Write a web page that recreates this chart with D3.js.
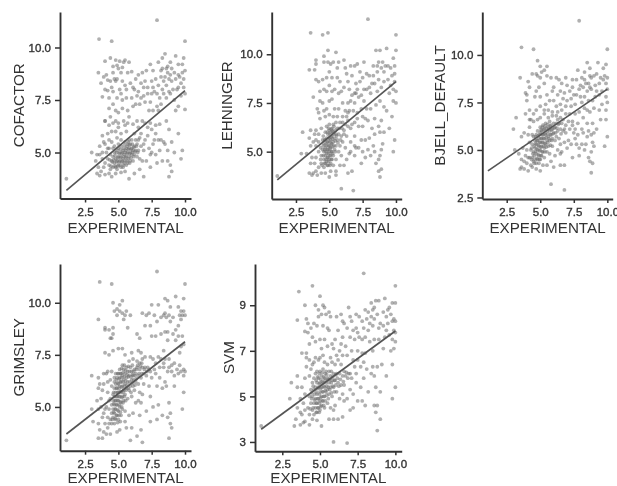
<!DOCTYPE html>
<html>
<head>
<meta charset="utf-8">
<script src="https://cdn.jsdelivr.net/npm/d3@7"></script>
<style>
  html, body { margin: 0; background: #fff; }
  svg { display: block; }
</style>
</head>
<body>
<div id="chart"></div>
<script>
const xTicks = [2.5, 5, 7.5, 10];
const xTitle = "EXPERIMENTAL";

const cofactorTicks = [5, 7.5, 10];
const cofactorLine = [[1.1, 3.2], [10, 7.95]];
const cofactorPoints = [
  [1.1,3.75],[7.9,11.3],[3.55,10.4],[4.5,10.3],[10,10.3],
  [3.5,8.8],[4,9.35],[4.1,8.7],[4.2,8.45],[4,8],[4.2,7.95],[3.8,7.65],[4.3,7.1],[4,6.5],[4.6,9.1],[4.8,9.4],[4.9,9.15],[5,9],[5.3,9.05],[5.4,9.3],
  [5.5,9.4],[5.2,8.8],[5.7,8.8],[6,8.85],[4.6,8.8],[4.7,8.5],[4.8,8.4],[4.9,8.5],[4.5,8.1],[4.6,7.9],[5.1,8],[5.3,8.4],[5.5,8.2],[5.6,8],[5.9,8.3],[6.3,8.5],
  [6.5,8.7],[6.8,8.8],[7,8.4],[7.2,8.1],[6.5,7.9],[6.7,7.6],[6.4,7.7],[6,7.6],[5.6,7.6],[5.3,7.5],[4.9,7.6],[4.6,7.3],[4.8,7],[5,6.9],[5.3,7.1],[5.7,7],
  [6.3,7.3],[6.6,7.3],[6.9,7.7],[7.2,7.8],[7.5,7.8],[7.7,7.9],[7.4,7.4],[7,7.4],[7.3,7],[7.6,7],[7.9,7.2],[8.1,7.6],[8.4,7.8],[8.6,7.6],[8.9,7.8],[7.5,8.4],
  [7.6,8.9],[7.4,9.2],[8,9.3],[8.3,9.5],[8.5,9.7],[8.7,9.1],[9.3,9.6],[9.5,9.2],[9.9,9.5],[9.8,9.2],[8.2,8.6],[8.5,8.6],[8.7,8.8],[8.4,8.4],[8.8,8.5],[8.6,8.2],
  [9,8.4],[9.3,8.5],[9.6,8.6],[9.8,8.8],[10,8.9],[9.7,8.3],[9.5,8.1],[9.9,8.1],[9.1,8],[8.8,7.9],[9.2,7.5],[9.5,7.2],[10,7.05],[9.3,7],[8,8.2],[8.2,8.9],
  [4,6.5],[4.6,6.4],[4.8,6.5],[5,6.4],[5.4,6.5],[5.7,6.4],[6.1,6.35],[6.4,6.5],[6.8,6.5],[7,6.4],[7.4,6.4],[7.8,6.3],[8.1,6.35],[8.6,6.5],[9.5,5.9],[9,5.5],
  [3.8,5.8],[4.2,5.9],[4.5,6],[4.8,6],[5.2,5.9],[5.6,6],[6.2,5.9],[6.7,5.9],[7.2,5.8],[7.8,5.9],[8.2,5.6],[8.5,5.4],[3.6,5.3],[4,5.4],[4.2,5.2],[4.5,5.5],
  [3,5],[3.3,4.6],[3.4,4.9],[3.6,4.9],[3.8,4.7],[3.5,4.3],[3.7,4.1],[3.9,4.3],[3.4,4],[3.6,3.9],[4,3.95],[4.3,4],[4.5,3.85],[4.8,4],[5.2,4.05],[5.8,3.75],
  [5.5,4.1],[6.2,4],[6.6,4.2],[6.9,3.85],[7.4,4.3],[7.9,4.5],[8.3,4.6],[8.7,4.6],[8.9,4.4],[8.8,3.85],[9,4.1],[9.7,4.7],[9.8,5.1],[9.2,5],[8.7,5.1],[7.6,5.4],
  [7,5.6],[7.3,5.2],[7.8,4.9],[6.9,5.1],[7.1,4.6],[6.8,4.6],[8.1,5.1],[8.4,5.5],[8,5.6],[6.6,5.7],[6.9,5.4],[6.3,5.6],
  [4,4.5],[4.2,4.7],[4.3,4.4],[4.4,4.9],[4.5,4.6],[4.6,4.3],[4.6,4.8],[4.7,4.5],[4.7,5],[4.8,4.7],[4.8,4.3],[4.9,4.6],[4.9,5.1],[5,4.4],[5,4.8],[5,5.2],
  [5.1,4.6],[5.1,5],[5.2,4.3],[5.2,4.8],[5.2,5.3],[5.3,4.6],[5.3,5],[5.4,4.4],[5.4,4.8],[5.4,5.2],[5.5,4.6],[5.5,5],[5.5,5.5],[5.6,4.8],[5.6,5.2],[5.7,4.5],
  [5.7,5],[5.7,5.4],[5.8,4.8],[5.8,5.2],[5.8,5.6],[5.9,4.6],[5.9,5],[5.9,5.4],[6,4.9],[6,5.2],[6,5.6],[6.1,4.6],[6.1,5.1],[6.2,5.3],[6.2,4.9],[6.3,5.1],
  [6.4,4.8],[6.4,5.4],[6.5,5.1],[6.6,4.7],[6.7,5.3],[3.8,5],[4.1,5],[4.3,5.2],[4.6,5.2],
  // denser part of the blob and the cloud
  [4.35,4.65],[4.45,4.35],[4.55,4.55],[4.65,4.65],[4.75,4.35],[4.75,4.85],[4.85,4.55],[4.85,5],[4.95,4.35],[4.95,4.75],[5.05,4.55],[5.05,4.95],[5.15,4.4],[5.15,4.75],[5.15,5.15],[5.25,4.55],
  [5.25,4.95],[5.35,4.3],[5.35,4.7],[5.35,5.1],[5.45,4.5],[5.45,4.9],[5.45,5.35],[5.55,4.75],[5.55,5.1],[5.65,4.6],[5.65,4.95],[5.65,5.3],[5.75,4.7],[5.75,5.15],[5.75,5.5],[5.85,4.5],
  [5.85,4.95],[5.85,5.35],[5.95,4.75],[5.95,5.15],[6.05,5],[6.05,5.4],[6.15,4.8],[6.15,5.25],[6.25,5.05],[6.35,5.3],[6.45,5],[5,5.4],[4.7,5.3],[4.4,4.2],[4.9,4.2],[5.6,4.4],
  [3.7,8.3],[3.9,8.6],[4.4,9.5],[5.1,9.35],[5.2,7.8],[5.8,9.3],[6.2,8],[6.1,7.2],[6.9,8.1],[7.1,8.9],[7.8,8.5],[7.9,7.8],[8.3,8],[8.2,7.3],[8,7],[8.6,9],
  [8.9,9.3],[9,9],[9.2,8.8],[9.5,8.7],[9.4,8],[9.7,7.7],[10,7.8],[9.9,8.5],[8.9,8.7],[8.3,9],[7.6,8.1],[6.7,8.3],[6.1,8.1],[4.4,8.4],[4.3,7.6],[5.8,6.7],
  [4.4,6.7],[4.3,6.3],[5,6.2],[5.5,6.3],[6.5,6.2],[7.2,6.2],[7.5,6.1],[7.7,5.6],[8.8,6.1],[3.9,5.5],[4.3,5.6],[4.9,5.7],[5.2,5.6],[6.5,5.6],[7.4,4.9],[7.5,5]
];

const lehningerTicks = [5, 7.5, 10];
const lehningerLine = [[1.1, 3.55], [10, 8.6]];
const lehningerPoints = [
  [1.1,3.75],[7.9,11.8],[3.6,11.1],[4.5,11],[4.9,11.1],[10,11],[5.9,3.1],[6.8,3],[8.8,3.7],[7,8],
  [3.5,9.2],[3.9,9.2],[4,9.7],[4,9.5],[4,8.7],[4.2,8.6],[3.8,7.8],[4.1,7.2],[4.2,7],[4.3,6.7],[4.6,9.9],[4.6,9.6],[4.9,10.2],[4.9,9.6],[5.1,9.5],[5.5,10.1],
  [5.3,9.6],[5.6,9.3],[5,9.1],[4.8,8.8],[4.5,8.7],[4.6,8.2],[4.8,8.1],[5,8.4],[5.2,8.8],[5.4,8.2],[5.6,8.8],[5.8,8.6],[5.9,8.1],[6.1,9.7],[6.3,9],[6.4,8.6],
  [6.6,9.4],[6.7,8.9],[6.5,8.2],[6.7,7.9],[6.9,8],[6.6,7.6],[7,8.5],[7.1,8.2],[7.2,7.8],[7.4,7.9],[7.6,7.6],[7.3,8.6],[7.3,9.1],[7.6,9.6],[7.8,9],[7.8,8.2],
  [8,8.9],[8.2,8.5],[8.1,8],[8.3,9.4],[8.5,10.2],[8.6,9.4],[8.8,10.2],[8.6,9.1],[8.7,8.7],[8.9,9.3],[9.3,10.3],[9.2,9.4],[9.1,9.1],[9.8,9.8],[10,10.2],[9.9,9.4],
  [9.6,9.3],[9.4,8.7],[9.7,8.9],[9.9,8.6],[10,8.1],[9.5,8],[9.8,7.6],[10,7.5],[9.3,7.1],[9.7,6.8],[8.8,7.6],[8.5,7.4],[8.1,7.2],[7.8,7.2],[7.4,7.2],[7.1,7],
  [4.5,7.5],[4.6,7.1],[4.8,7.2],[5,7.6],[5.2,7.7],[5.4,7.2],[5.7,7.2],[6,7.5],[6.2,7.1],[6.5,7.1],[6.8,7.1],[6.3,6.8],[6,6.8],[5.6,6.8],[5.3,6.8],[5,6.9],
  [4.7,6.8],[4.4,6.2],[3.6,6.1],[3,6],[3.5,5.7],[3.9,5.9],[4.2,5.9],[3.6,5.3],[4,5.3],[2.9,4.9],[3.3,4.9],[3.6,4.4],[3.9,4.4],[3.5,3.9],[3.8,3.9],[4,4],
  [4.2,4.2],[4.1,3.8],[4.7,3.9],[5,3.7],[5.1,4],[5.5,4],[6.1,4.3],[6.4,3.9],[6.7,4],[7.4,4.4],[7.7,4.7],[8.1,4.8],[8.4,5],[8.7,4.6],[8.9,4.1],[8.7,4],
  [8.8,4.8],[7.5,5],[6.9,4.8],[7,5.2],[7.9,5.1],[8,5.7],[8.4,5.9],[8.8,6],[9.1,6],[9,5.4],[9.8,5],[9.9,5.6],[9.5,6.2],[7.4,5.6],[6.9,5.8],[6.6,5.5],
  [7.2,6.3],[7.5,6.3],[7.9,6.6],[8.4,6.7],[8.7,6.3],[6.7,6.4],[6.9,6.5],[6.4,6.6],[6.6,6.2],[6.2,6.4],[6,6.5],[5.8,6.5],[5.5,6.5],[5.3,6.4],[5,6.4],[4.8,6.3],
  [4.4,4.4],[4.4,4.8],[4.5,5.1],[4.5,5.6],[4.6,4.2],[4.6,4.6],[4.6,5],[4.6,5.4],[4.7,4.4],[4.7,4.8],[4.7,5.2],[4.7,5.6],[4.7,6],[4.8,4.5],[4.8,4.9],[4.8,5.3],
  [4.8,5.7],[4.9,4.3],[4.9,4.7],[4.9,5.1],[4.9,5.5],[4.9,5.9],[5,4.6],[5,5],[5,5.3],[5,5.7],[5,6.1],[5.1,4.4],[5.1,4.8],[5.1,5.2],[5.1,5.6],[5.1,6],
  [5.2,4.6],[5.2,5],[5.2,5.4],[5.2,5.8],[5.2,6.2],[5.3,4.3],[5.3,4.8],[5.3,5.5],[5.3,6],[5.4,5.1],[5.4,5.7],[5.5,4.6],[5.5,5.3],[5.5,5.9],[5.6,5.6],[5.6,6.2],
  [5.7,5],[5.7,5.9],[5.8,5.3],[5.9,4.8],[5.9,5.8],[6,5.5],[6.1,6.1],[6.2,5.2],[6.3,5.8],[6.4,6.3],[6.5,4.9],[4.2,5],[4.2,5.5],[4,4.7],
  // denser part of the blob and the cloud
  [4.35,4.6],[4.35,5.2],[4.45,4.3],[4.55,4.8],[4.55,5.3],[4.55,5.8],[4.65,4.4],[4.65,5.1],[4.65,5.6],[4.75,4.6],[4.75,5],[4.75,5.4],[4.85,4.3],[4.85,4.7],[4.85,5.1],[4.85,5.5],
  [4.85,6],[4.95,4.5],[4.95,4.9],[4.95,5.3],[4.95,5.7],[4.95,6.2],[5.05,4.3],[5.05,4.8],[5.05,5.15],[5.05,5.5],[5.05,5.9],[5.15,4.6],[5.15,5],[5.15,5.4],[5.15,5.75],[5.15,6.15],
  [5.25,4.9],[5.25,5.25],[5.25,5.65],[5.25,6.05],[5.35,5.3],[5.35,5.9],[5.35,6.3],[5.45,5],[5.45,5.55],[5.45,6.1],[5.55,5.8],[5.65,5.45],[5.75,6.2],[5.85,5.6],[5.95,6.2],[6.1,5.9],
  [3.7,4.7],[3.8,5.5],[4,6.1],[4,5.6],[4.3,7.6],[4.3,8.1],[5.7,9.6],[6.2,9.3],[6.9,9.4],[7.1,9.5],[7.5,8.8],[7.6,8.2],[8,8.3],[8.3,8.9],[8.4,8.5],[8.7,9.6],
  [9,9.6],[9.1,8.6],[9.4,9.4],[9.6,8.4],[9.9,9],[9.8,8.2],[8.6,8.1],[8.9,8.3],[6.1,8.3],[5.7,8],[5.2,8.1],[6.4,7.5],[6.9,7.5],[7.5,6.8],[8.2,6.2],[9.1,7.3],
  [8.9,6.6],[8.3,5.3],[7.7,5.6],[7.2,5.2],[6.9,5.3],[6.6,5],[6.3,4.6],[5.8,4.3],[5.5,3.8],[4.4,3.9],[3.7,3.8],[8.9,5.1],[8.5,4.4],[7.1,6.7],[7.7,6.7],[6.4,7]
];

const bjellTicks = [2.5, 5, 7.5, 10];
const bjellLine = [[1.1, 3.9], [10, 8.2]];
const bjellPoints = [
  [7.9,11.8],[3.6,10.4],[4.5,10.3],[10,10.3],[5.8,3.2],[6.8,2.9],[8.8,3.8],[8.9,4.3],
  [3.5,8.8],[3.2,6.7],[3,6.1],[4.1,8.6],[4.2,8.3],[4,7.9],[4,7.6],[4.2,7.1],[3.9,6.9],[4.2,6.6],[4.7,9],[4.8,9.7],[5,8.8],[5,9.4],[5.3,9.2],[5.5,8.9],
  [5.1,9.1],[4.9,8.3],[4.7,8.1],[4.6,7.8],[5,7.8],[5.3,8.5],[5.5,7.9],[5.8,8.8],[6,8.3],[6.2,8.8],[6.4,8.7],[6.6,8.5],[6.3,7.9],[6,7.6],[5.7,7.6],[5.4,7.4],
  [5,7.3],[4.7,7.1],[4.5,6.9],[5.3,7.1],[5.6,7.1],[5.9,7],[6.2,7.3],[6.5,7.4],[6.7,7.7],[7,7.6],[7.3,7.7],[7.5,7.9],[7.7,7.9],[7.2,8.1],[7,8.4],[6.9,8.8],
  [7.8,9.2],[7.7,8.7],[8.1,8.8],[8.3,9.1],[8.5,9.6],[8.7,9.3],[9.3,9.6],[9.9,9.5],[9.7,9.3],[8.4,8.5],[8.6,8.5],[8.8,8.8],[8.2,8.3],[8.5,8.1],[8.8,8.2],[9.1,8.4],
  [9.4,8.5],[9.7,8.7],[10,8.8],[9.9,8.5],[9.6,8.1],[9.4,7.9],[9.9,7.8],[10,7.5],[9.1,7.8],[8.9,7.6],[9,7.2],[9.4,7.1],[9.9,7.1],[9.5,6.6],[9.9,6.6],[8.1,7.5],
  [8.3,7.2],[8.5,7.1],[8.7,7],[7.9,7],[7.6,6.9],[7.2,6.9],[6.9,6.9],[7.4,6.5],[7.8,6.4],[8.2,6.7],[8.5,6.4],[8.9,6.4],[9.2,6.1],[9,5.9],[8.6,6],[8.2,5.9],
  [7.8,5.8],[7.5,5.9],[7.2,6.1],[6.9,6.3],[6.7,6.6],[6.5,6.7],[6.2,6.8],[5.9,6.8],[5.6,6.7],[5.3,6.9],[5,6.7],[4.8,6.6],[4.5,6.5],[4.2,6.2],[3.8,5.9],[3.6,5.7],
  [3.1,5],[3.4,4.8],[3.6,4.5],[3.5,4],[3.8,4],[4,4.3],[4.1,3.9],[4.4,4.1],[4.7,4],[5,3.9],[5.5,4.2],[6,4.1],[6.5,4.2],[6.8,4.2],[7.4,4.6],[7.9,4.7],
  [8.3,5],[8.6,4.6],[8.8,4.9],[9,5.2],[9.8,5.2],[10,5.7],[7,5.1],[6.8,5.4],[7.3,5.3],[7.7,5.3],[8.1,5.3],[6.5,5.3],[6.6,4.9],[6.3,5],
  [3.9,4.7],[4,5],[4.2,4.6],[4.2,5.4],[4.3,5],[4.4,4.6],[4.4,5.3],[4.5,4.4],[4.5,4.9],[4.5,5.7],[4.6,4.5],[4.6,5.1],[4.6,5.5],[4.7,4.3],[4.7,4.8],[4.7,5.3],
  [4.7,5.8],[4.8,4.5],[4.8,5],[4.8,5.5],[4.8,6],[4.9,4.3],[4.9,4.7],[4.9,5.2],[4.9,5.6],[5,4.5],[5,5],[5,5.4],[5,5.9],[5,6.2],[5.1,4.7],[5.1,5.2],
  [5.1,5.6],[5.1,6],[5.2,4.9],[5.2,5.4],[5.2,5.8],[5.2,6.3],[5.3,4.6],[5.3,5.1],[5.3,5.6],[5.3,6.1],[5.4,5.3],[5.4,5.8],[5.4,6.4],[5.5,4.9],[5.5,5.5],[5.5,6],
  [5.6,5.2],[5.6,5.7],[5.6,6.2],[5.7,4.8],[5.7,5.5],[5.7,6],[5.7,6.5],[5.8,5.8],[5.8,6.3],[5.9,5.2],[5.9,5.6],[5.9,6.1],[6,5.9],[6,6.4],[6.1,5.5],[6.1,6.2],
  [6.2,5.7],[6.2,6.4],[6.3,6],[6.4,5.6],[6.4,6.4],[6.5,6.1],[6.6,6.4],[6.7,6],[6.9,5.9],
  // denser part of the blob and the cloud
  [4.35,4.5],[4.35,5.1],[4.45,4.8],[4.55,4.3],[4.55,4.7],[4.55,5.2],[4.65,4.9],[4.65,5.35],[4.65,5.7],[4.75,4.55],[4.75,5.05],[4.75,5.5],[4.85,4.75],[4.85,5.25],[4.85,5.75],[4.95,4.5],
  [4.95,4.95],[4.95,5.4],[4.95,5.8],[5.05,4.7],[5.05,5.15],[5.05,5.6],[5.05,6.05],[5.15,4.9],[5.15,5.4],[5.15,5.8],[5.15,6.2],[5.25,5.2],[5.25,5.6],[5.25,6.05],[5.35,4.9],[5.35,5.35],
  [5.35,5.85],[5.35,6.25],[5.45,5.15],[5.45,5.65],[5.45,6.15],[5.55,5.4],[5.55,5.85],[5.55,6.35],[5.65,5.6],[5.65,6.1],[5.75,5.25],[5.75,5.8],[5.75,6.25],[5.85,5.5],[5.85,6.05],[5.95,5.85],
  [6.05,6.15],[6.15,5.9],[6.25,6.15],[6.35,6.35],[6.55,5.85],[6.8,6.1],[6.3,6.6],[3.7,5.1],[3.8,4.4],[4.1,4.6],[4.1,5.8],[4.4,5.8],[4.3,6.6],[3.9,8],[4.4,9],[4.8,8.9],
  [5.5,9.4],[5.9,8.1],[6.5,8.1],[6.8,8],[7.4,8.7],[7.4,8.3],[7.9,8.2],[8,8.4],[8.3,8.7],[8.7,8.9],[9,8.9],[9.2,9],[9.5,8.8],[9.8,8.9],[9.2,8.1],[8.7,8.3],
  [8.3,7.8],[8,7.8],[7.6,7.4],[7.3,7.3],[6.9,7.3],[6.6,7.1],[6.3,7],[8.6,7.6],[9.6,7.4],[10,8.2],[7.4,6.3],[7.1,6.5],[7.6,6.1],[8.1,6.1],[8.5,5.7],[8.9,5.4],
  [8.8,5.8],[7.6,5.6],[7.1,5.5],[6.5,4.8],[6.1,4.7],[5.8,4.4],[5.2,4.2],[4.3,4.2],[3.6,4.1],[8.4,5.3],[7.9,5.1],[8.7,4.4]
];

const grimsleyTicks = [5, 7.5, 10];
const grimsleyLine = [[1.1, 3.7], [10, 8.13]];
const grimsleyPoints = [
  [1.1,3.4],[7.9,11.5],[3.6,11],[4.5,10.9],[10,10.9],[6.8,3.3],[5.9,3.4],[8.8,3.5],
  [3.5,9.2],[4,8.8],[4,8.7],[4.3,8.7],[4.6,8.5],[4.4,8.3],[4.5,8.3],[4.6,10],[4.9,9.7],[5.1,9.9],[5.3,10.1],[4.7,9.6],[4.9,9.4],[5.1,9.6],[5.3,9.5],[5.5,9.4],
  [5.4,9.2],[5.9,9.4],[5.7,8.8],[6.4,8.5],[6.6,8.3],[7,8.9],[7.4,8.9],[7.3,9.5],[6.8,9.5],[7.5,9.9],[8,9.9],[7.7,9.4],[7.9,9.1],[8.2,9.3],[8.5,10.2],[8.6,9.3],
  [8.7,10.1],[8.8,9.4],[8.4,9.4],[8.9,9.1],[9.3,10.3],[9.5,9.8],[9.9,10.2],[9.6,9.4],[9.8,9.4],[10,9.4],[9.7,9.2],[9.5,8.9],[9.3,8.7],[9.5,8.4],[9.8,8.4],[9.1,8.5],
  [8.7,8.6],[8.5,8.6],[8.2,8.5],[7.8,8.4],[7.5,8.4],[9.9,8],[9.6,7.6],[8.4,7.7],[3.5,6.4],[3,6.5],[4,7.6],[4.3,7.5],[4.6,7.7],[5,7.8],[5.3,7.8],[5.5,7.5],
  [6,7.6],[6.5,7.7],[6.7,7.6],[7,7.4],[7.4,7.4],[7.8,7.1],[8.2,7.3],[8.5,7.3],[8.8,7.3],[9.2,7.1],[9.6,7],[9.9,6.8],[10,6.7],[9.5,6.6],[9.2,6.5],[8.8,6.9],
  [8.4,6.9],[8.1,6.9],[7.7,6.8],[7.5,6.4],[8.5,6.2],[9,6.7],[8.6,6],[8.3,5.9],[7.9,6],[9.2,6],[9.9,5.7],[7.3,6],[6.9,6.1],[7.4,5.5],[3.5,5.9],[3.6,6.1],
  [3.8,5.8],[3.7,5.4],[3.4,5.3],[3,4.9],[3.1,4.3],[3.5,4.9],[3.8,4.5],[4.2,4.5],[3.5,4.2],[3.6,3.9],[3.9,3.8],[4.1,3.7],[3.5,3.5],[3.8,3.5],[4.4,3.7],[4.9,3.8],
  [5.1,3.9],[5.6,4],[6,4],[6.4,3.6],[6.7,3.9],[6.6,4.6],[7.4,4.3],[7.9,4.4],[8.3,4.6],[8.7,4.5],[8.9,4.7],[8.9,4.2],[9,4],[8.8,5.2],[9.8,4.9],[7.6,5],
  [7.1,4.8],[6.7,5.2],[6.5,5.3],[8,5.1],
  [3.9,6.6],[4.2,6.7],[4.4,6.3],[4.5,6.7],[4.7,6.4],[4.5,6],[4.2,5.7],[4.4,5.4],[4.6,5.6],[4.1,5],[4.3,4.9],[4.4,4.4],[4.5,4.7],[4.5,5.1],[4.5,4.2],[4.6,4.5],
  [4.6,4.9],[4.6,5.3],[4.7,4.2],[4.7,4.7],[4.7,5.1],[4.7,5.5],[4.7,5.9],[4.7,6.2],[4.8,4.4],[4.8,4.9],[4.8,5.3],[4.8,5.7],[4.8,6.1],[4.8,6.6],[4.9,4.6],[4.9,5.1],
  [4.9,5.5],[4.9,5.9],[4.9,6.4],[5,4.4],[5,4.8],[5,5.3],[5,5.7],[5,6.1],[5,6.6],[5.1,5],[5.1,5.5],[5.1,6],[5.1,6.4],[5.1,6.8],[5.2,4.6],[5.2,5.2],
  [5.2,5.7],[5.2,6.2],[5.2,6.6],[5.3,4.9],[5.3,5.5],[5.3,6],[5.3,6.5],[5.3,7],[5.4,5.3],[5.4,5.8],[5.4,6.3],[5.4,6.8],[5.5,4.8],[5.5,5.6],[5.5,6.1],[5.5,6.6],
  [5.6,5.9],[5.6,6.4],[5.6,6.9],[5.7,5.4],[5.7,6.2],[5.7,6.7],[5.8,5.8],[5.8,6.5],[5.9,6],[5.9,6.9],[6,5.5],[6,6.3],[6,6.7],[6.1,6],[6.1,6.5],[6.2,5.8],
  [6.2,6.8],[6.3,6.2],[6.3,6.6],[6.4,6.9],[6.4,7.2],[6.5,6.5],[6.5,6.1],[6.6,6.8],[6.6,7.1],[6.7,6.4],[6.8,6.9],[6.8,7.3],[6.9,6.6],[7,6.9],[7.1,6.5],[7.2,6.9],
  // denser part of the blob and the cloud
  [4.55,4.4],[4.65,4.75],[4.65,5.15],[4.65,5.7],[4.75,4.45],[4.75,4.9],[4.75,5.3],[4.85,4.6],[4.85,5.1],[4.85,5.5],[4.85,5.9],[4.85,6.3],[4.95,4.25],[4.95,4.85],[4.95,5.3],[4.95,5.7],
  [4.95,6.15],[4.95,6.6],[5.05,4.6],[5.05,5.1],[5.05,5.5],[5.05,5.9],[5.05,6.35],[5.15,4.3],[5.15,4.75],[5.15,5.25],[5.15,5.75],[5.15,6.2],[5.15,6.6],[5.25,5],[5.25,5.45],[5.25,5.95],
  [5.25,6.4],[5.25,6.85],[5.35,5.2],[5.35,5.7],[5.35,6.2],[5.35,6.65],[5.45,5.5],[5.45,6],[5.45,6.45],[5.45,7],[5.55,5.3],[5.55,5.8],[5.55,6.25],[5.55,6.75],[5.65,6.05],[5.65,6.55],
  [5.75,5.9],[5.75,6.45],[5.75,6.95],[5.85,6.2],[5.85,6.7],[5.95,5.7],[5.95,6.45],[6.05,6.15],[6.05,6.55],[6.05,7],[6.15,6.3],[6.15,6.7],[6.25,6.05],[6.25,6.5],[6.35,6.35],[6.35,6.8],
  [6.45,7],[6.55,6.6],[6.65,6.95],[6.75,6.6],[6.75,7.1],[6.95,6.8],[7.15,6.7],[7.3,6.8],[6.1,7.3],[5.8,7.2],[3.7,5],[3.9,4.7],[4,4.2],[4.2,4],[4.3,4.2],[4,4.9],
  [4.3,5.3],[4.2,6.2],[3.9,6.1],[4.1,6.6],[7.6,7.3],[8,7.4],[8.4,7.1],[8.7,6.7],[9,7],[9.4,6.8],[9.7,6.7],[9.9,6.5],[8.1,6.4],[7.8,6.6],[7.4,6.7],[6.6,5.7],
  [6.8,5.6],[6.3,5.2],[6.1,4.7],[5.8,4.6],[5.5,4.3],[4.6,8.8],[5.6,9.6],[7.1,9.4],[8.5,9.5],[9.1,9.3],[9.9,9.6],[9.7,9.6],[8.9,9.8],[8.7,8.2],[9.7,7.9],[9.3,8.2]
];

const svmTicks = [3, 5, 7, 9];
const svmLine = [[1.1, 3.56], [10, 7.87]];
const svmPoints = [
  [1.1,3.7],[7.9,10.4],[3.6,9.6],[4.5,9.85],[5,9.4],[10,9.85],[5.9,3],[6.8,2.95],[8.8,3.5],[9,4],
  [3.5,8.35],[4,9],[4.1,8.4],[4.2,8.2],[4,7.85],[4.2,7.8],[3.8,6.9],[4.1,6.9],[4.1,6.7],[4.7,9],[4.9,8.8],[5.1,8.6],[5.3,8.9],[5.4,8.6],[4.6,8.2],[4.8,8.1],
  [5.2,8.1],[5.5,8],[5.6,7.9],[4.5,7.6],[4.7,7.4],[5,7.5],[5.3,7.5],[5.7,8.5],[6.1,8.5],[6.4,8.6],[6.9,8.9],[7,8.5],[6.6,8.2],[6.2,7.9],[6,7.5],[5.8,7.3],
  [6.4,7.3],[6.7,7.2],[6.5,7.6],[7,7.6],[7.2,7.9],[7.3,7.5],[7.6,7.6],[7.1,7],[6.8,6.8],[7.5,7],[7.8,7.5],[7.9,8],[7.8,8.3],[7.4,8.6],[8.1,8.4],[8.3,8.2],
  [8.5,8.8],[8.7,9.2],[8.4,9.1],[8.6,8.4],[8.8,8.6],[9,8.2],[9.3,9.3],[9.5,8.8],[9.8,9.1],[10,9.1],[9.7,8.6],[9.9,8.4],[10,8.3],[9.5,8.2],[9.2,8.1],[9.9,7.9],
  [9.6,7.7],[9.3,7.6],[10,7.4],[9.9,7.1],[9.2,7.1],[8.9,7.5],[8.6,7.5],[8.3,7.4],[8,6.9],[8.5,7],[9.8,6.4],[9.4,5.9],[10,5.4],[9.8,4.9],[8.8,6.3],[8.4,6],
  [8.1,6.2],[7.9,5.8],[7.7,6.3],[7.4,6],[7.2,6.6],[7.7,5.4],[8.2,5.2],[8.7,5.4],[9,5.2],[8.8,4.6],[8.6,4.6],[8.7,4.3],[7.5,4.8],[7.8,4.8],[8,4.6],[6.8,4.9],
  [7,5.3],[7.2,5.1],[7.4,5.6],[6.6,5.5],[4.3,6.6],[4.5,6.4],[4.7,6.7],[4.9,6.6],[5.2,6.8],[5.5,6.4],[5.8,6.5],[6,6.4],[6.2,6.6],[6.5,6.8],[4,5.8],[4.3,5.9],
  [3.1,5.6],[3,4.9],[3.5,5.4],[3.5,5.9],[3.7,4.9],[3.5,4.5],[3.4,4],[3.8,4.2],[3.9,3.85],[3.3,3.7],[3.7,3.75],[4,3.9],[4.3,3.75],[4.5,4],[4.8,3.95],[5.1,3.7],
  [5.6,4],[5.9,4],[6.2,4],[6.5,4.1],[7,4.4],[3.9,4.7],[4,5.1],[4.2,4.5],[4.3,5],[4.3,4.2],
  [4.4,4.7],[4.4,5.3],[4.5,4.4],[4.5,5],[4.5,5.6],[4.6,4.2],[4.6,4.7],[4.6,5.3],[4.6,5.8],[4.7,4.5],[4.7,4.9],[4.7,5.4],[4.7,6],[4.8,4.3],[4.8,4.7],[4.8,5.1],
  [4.8,5.6],[4.8,6.1],[4.9,4.5],[4.9,4.9],[4.9,5.4],[4.9,5.8],[5,4.4],[5,4.8],[5,5.2],[5,5.6],[5,6.1],[5.1,4.6],[5.1,5],[5.1,5.4],[5.1,5.9],[5.2,4.8],
  [5.2,5.2],[5.2,5.6],[5.2,6.2],[5.3,4.5],[5.3,5],[5.3,5.4],[5.3,5.8],[5.4,5.2],[5.4,5.6],[5.4,6.1],[5.5,4.7],[5.5,5.3],[5.5,5.8],[5.6,5.1],[5.6,5.6],[5.6,6.1],
  [5.7,4.5],[5.7,5.4],[5.7,5.9],[5.8,5],[5.8,5.7],[5.9,5.4],[5.9,6],[6,4.6],[6,5.7],[6.1,5.2],[6.1,6],[6.2,5.6],[6.3,4.9],[6.3,6],[6.4,5.5],[6.5,5.9],
  [6.6,6.1],[6.7,5.9],[6.9,6],[7,6],[6.5,5.1],[5.9,4.4],
  // denser part of the blob and the cloud
  [4.35,4.45],[4.45,4.9],[4.45,5.15],[4.55,4.5],[4.55,5.45],[4.65,4.85],[4.65,5.1],[4.75,4.3],[4.75,4.7],[4.75,5.2],[4.75,5.7],[4.85,4.5],[4.85,4.9],[4.85,5.35],[4.85,5.85],[4.95,4.3],
  [4.95,4.7],[4.95,5.1],[4.95,5.55],[4.95,6],[5.05,4.55],[5.05,4.95],[5.05,5.35],[5.05,5.75],[5.15,4.8],[5.15,5.2],[5.15,5.65],[5.15,6.05],[5.25,4.6],[5.25,5],[5.25,5.45],[5.25,5.85],
  [5.35,4.8],[5.35,5.25],[5.35,5.7],[5.35,6],[5.45,5.05],[5.45,5.45],[5.45,5.95],[5.55,4.9],[5.55,5.4],[5.55,5.75],[5.65,5.3],[5.65,5.75],[5.75,5.15],[5.75,5.6],[5.75,6.1],[5.85,5.45],
  [5.85,5.85],[5.95,5.2],[5.95,5.7],[6.05,5.5],[6.05,5.95],[6.15,5.8],[6.25,5.45],[6.35,5.75],[6.55,5.65],[6.75,6.05],[6.85,5.8],[7.1,5.8],[3.7,4.3],[4,4.4],[3.8,5.4],[4.1,6.3],
  [4.4,6.2],[4.6,6.5],[5,6.7],[5.3,6.5],[5.7,6.7],[6.4,6.4],[6.1,6.8],[6.3,7],[5.9,7.1],[5.5,7.2],[5.1,7.1],[4.3,7.3],[4.4,8],[4.9,8.5],[5.6,8.7],[5.2,9],
  [6.5,8.3],[6.8,8],[7.1,8.3],[7.4,8],[7.6,8.5],[8,8.8],[8.2,8.7],[8.4,8.5],[8.6,8.9],[8.9,9.2],[9.2,8.7],[9.4,8.5],[9.6,8.9],[9.8,8.3],[8.9,8],[8.5,8.1],
  [8.2,7.9],[8,7.6],[7.5,7.8],[9.4,7.9],[9.8,7.5],[10,7.8],[9.7,7],[8.5,6.3],[7.9,6.5],[7.5,6.6],[7.3,6.3],[7.8,6.9],[8.6,5.9],[9.1,6.4],[7.2,4.5],[6.6,4.8]
];

const panels = [
  { title: "COFACTOR", points: cofactorPoints, line: cofactorLine, ticks: cofactorTicks, yFormat: ".1f",
    left: 60, right: 191, top: 12, bottom: 198.5, xDomain: [0.62, 10.45], yDomain: [2.81, 11.69], titleX: 19, xTitleDy: 34 },
  { title: "LEHNINGER", points: lehningerPoints, line: lehningerLine, ticks: lehningerTicks, yFormat: ".1f",
    left: 271.7, right: 401.7, top: 12, bottom: 199, xDomain: [0.68, 10.43], yDomain: [2.57, 12.17], titleX: 227, xTitleDy: 34 },
  { title: "BJELL_DEFAULT", points: bjellPoints, line: bjellLine, ticks: bjellTicks, yFormat: ".1f",
    left: 482.3, right: 612.7, top: 12, bottom: 199, xDomain: [0.68, 10.4], yDomain: [2.42, 12.26], titleX: 440, xTitleDy: 34 },
  { title: "GRIMSLEY", points: grimsleyPoints, line: grimsleyLine, ticks: grimsleyTicks, yFormat: ".1f",
    left: 60, right: 191, top: 264, bottom: 450.7, xDomain: [0.62, 10.45], yDomain: [2.9, 11.86], titleX: 19, xTitleDy: 32.5 },
  { title: "SVM", points: svmPoints, line: svmLine, ticks: svmTicks, yFormat: "d",
    left: 255, right: 401.7, top: 264, bottom: 451.3, xDomain: [0.69, 10.42], yDomain: [2.59, 10.81], titleX: 229, xTitleDy: 32 }
];

const width = 617, height = 486;
const inkColor = "#333";

const svg = d3.select("#chart")
  .append("svg")
  .attr("width", width)
  .attr("height", height)
  .style("font-family", "'Liberation Sans', Arial, sans-serif");

// the reference is a soft scan, so everything gets a small blur
svg.append("defs").append("filter")
  .attr("id", "soft")
  .attr("filterUnits", "userSpaceOnUse")
  .attr("x", 0).attr("y", 0)
  .attr("width", width).attr("height", height)
  .append("feGaussianBlur")
  .attr("stdDeviation", 0.45);

const root = svg.append("g").attr("filter", "url(#soft)");

panels.forEach(p => {
  const x = d3.scaleLinear().domain(p.xDomain).range([p.left, p.right]);
  const y = d3.scaleLinear().domain(p.yDomain).range([p.bottom, p.top]);
  const g = root.append("g");

  g.selectAll("circle")
    .data(p.points)
    .join("circle")
    .attr("cx", d => x(d[0]))
    .attr("cy", d => y(d[1]))
    .attr("r", 1.9)
    .attr("fill", "#6e6e6e")
    .attr("fill-opacity", 0.55);

  g.append("path")
    .attr("d", d3.line().x(d => x(d[0])).y(d => y(d[1]))(p.line))
    .attr("fill", "none")
    .attr("stroke", "#555")
    .attr("stroke-width", 1.7);

  // Axes
  const xAxis = g.append("g")
    .attr("transform", `translate(0, ${p.bottom})`)
    .call(d3.axisBottom(x).tickValues(xTicks).tickFormat(d3.format(".1f")).tickSizeInner(4).tickSizeOuter(0).tickPadding(5));

  const yAxis = g.append("g")
    .attr("transform", `translate(${p.left}, 0)`)
    .call(d3.axisLeft(y).tickValues(p.ticks).tickFormat(d3.format(p.yFormat)).tickSizeInner(5).tickSizeOuter(0).tickPadding(4));

  [xAxis, yAxis].forEach(axis => {
    axis.select(".domain").attr("stroke", inkColor).attr("stroke-width", 1.9);
    axis.selectAll(".tick line").attr("stroke", inkColor).attr("stroke-width", 1.5);
    axis.selectAll(".tick text")
      .attr("fill", inkColor)
      .attr("stroke", inkColor)
      .attr("stroke-width", 0.35)
      .style("font-size", "11.5px")
      .style("font-family", "'Liberation Sans', Arial, sans-serif");
  });

  // Axis titles
  g.append("text")
    .attr("x", (p.left + p.right) / 2)
    .attr("y", p.bottom + p.xTitleDy)
    .attr("text-anchor", "middle")
    .attr("fill", inkColor)
    .style("font-size", "15.2px")
    .text(xTitle);

  g.append("text")
    .attr("transform", `translate(${p.titleX + 5}, ${(p.top + p.bottom) / 2}) rotate(-90)`)
    .attr("text-anchor", "middle")
    .attr("fill", inkColor)
    .style("font-size", "15.2px")
    .text(p.title);
});
</script>
</body>
</html>
